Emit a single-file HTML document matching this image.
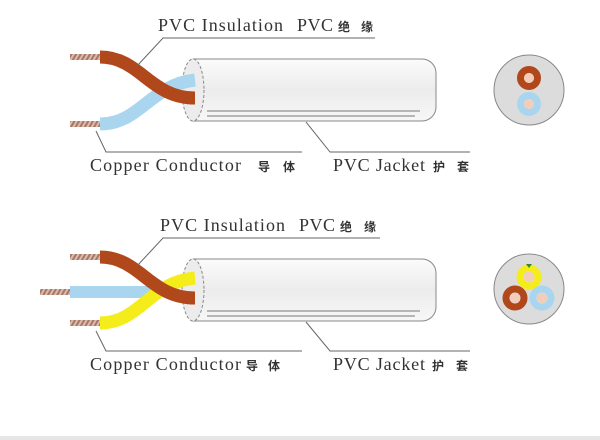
<!DOCTYPE html>
<html><head><meta charset="utf-8"><style>
html,body{margin:0;padding:0;background:#fff}
svg{display:block}
text{font-family:"Liberation Serif","Noto Serif CJK SC",serif;fill:#333;font-size:18px}
text.c{font-family:"Noto Sans CJK SC",sans-serif;font-size:12px;font-weight:bold;fill:#333}
</style></head><body>
<svg width="600" height="440" viewBox="0 0 600 440" xmlns="http://www.w3.org/2000/svg">
<defs>
<linearGradient id="jk" x1="0" y1="0" x2="0" y2="1">
<stop offset="0" stop-color="#fbfbfb"/><stop offset="0.5" stop-color="#ececec"/><stop offset="1" stop-color="#f7f7f7"/>
</linearGradient>
<pattern id="cu" width="4" height="4" patternUnits="userSpaceOnUse" patternTransform="rotate(30)">
<rect width="4" height="4" fill="#e2b9a8"/><rect width="2" height="4" fill="#a07a6a"/>
</pattern>
</defs>
<rect x="0" y="436" width="600" height="4" fill="#e6e6e6"/>

<path d="M193 59 H422 A14 14 0 0 1 436 73 V107 A14 14 0 0 1 422 121 H193 Z" fill="url(#jk)" stroke="#888"/>
<ellipse cx="193" cy="90" rx="11" ry="31" fill="#ececec" stroke="#888" stroke-dasharray="3 2"/>
<line x1="207" y1="111" x2="420" y2="111" stroke="#777"/>
<line x1="207" y1="116" x2="415" y2="116" stroke="#777"/>
<path d="M100 124 C140 124 150 85 195 80" fill="none" stroke="#a9d6ee" stroke-width="13"/>
<path d="M100 57 C140 57 150 98 195 98" fill="none" stroke="#b0481b" stroke-width="13"/>
<rect x="70" y="54" width="30" height="6" fill="url(#cu)"/>
<rect x="70" y="121" width="30" height="6" fill="url(#cu)"/>
<text x="158" y="31" textLength="125" lengthAdjust="spacing">PVC Insulation</text>
<text x="297" y="31" textLength="36" lengthAdjust="spacing">PVC</text>
<text class="c" x="338" y="31">绝</text><text class="c" x="361" y="31">缘</text>
<polyline points="137,66 163,38 375,38" fill="none" stroke="#666"/>
<polyline points="96,131 106,152 302,152" fill="none" stroke="#666"/>
<text x="90" y="171" textLength="151" lengthAdjust="spacing">Copper Conductor</text>
<text class="c" x="258" y="171">导</text><text class="c" x="283" y="171">体</text>
<polyline points="306,122 330,152 470,152" fill="none" stroke="#666"/>
<text x="333" y="171" textLength="92" lengthAdjust="spacing">PVC Jacket</text>
<text class="c" x="433" y="171">护</text><text class="c" x="457" y="171">套</text>
<circle cx="529" cy="90" r="35" fill="#dcdcdc" stroke="#888"/>
<circle cx="529" cy="78" r="8.5" fill="none" stroke="#b0481b" stroke-width="7"/>
<circle cx="529" cy="78" r="5" fill="#f3cdb8"/>
<circle cx="529" cy="104" r="8.5" fill="none" stroke="#a9d6ee" stroke-width="7"/>
<circle cx="529" cy="104" r="5" fill="#f3cdb8"/>

<path d="M193 259 H422 A14 14 0 0 1 436 273 V307 A14 14 0 0 1 422 321 H193 Z" fill="url(#jk)" stroke="#888"/>
<ellipse cx="193" cy="290" rx="11" ry="31" fill="#ececec" stroke="#888" stroke-dasharray="3 2"/>
<line x1="207" y1="311" x2="420" y2="311" stroke="#777"/>
<line x1="207" y1="316" x2="415" y2="316" stroke="#777"/>
<path d="M70 292 H160" fill="none" stroke="#a9d6ee" stroke-width="12"/>
<path d="M100 323 C140 323 150 282 195 278" fill="none" stroke="#f5ec1c" stroke-width="13"/>
<path d="M100 257 C140 257 150 298 195 298" fill="none" stroke="#b0481b" stroke-width="13"/>
<rect x="70" y="254" width="30" height="6" fill="url(#cu)"/>
<rect x="40" y="289" width="30" height="6" fill="url(#cu)"/>
<rect x="70" y="320" width="30" height="6" fill="url(#cu)"/>
<text x="160" y="231" textLength="125" lengthAdjust="spacing">PVC Insulation</text>
<text x="299" y="231" textLength="36" lengthAdjust="spacing">PVC</text>
<text class="c" x="340" y="231">绝</text><text class="c" x="364" y="231">缘</text>
<polyline points="137,266 163,238 380,238" fill="none" stroke="#666"/>
<polyline points="96,331 106,351 302,351" fill="none" stroke="#666"/>
<text x="90" y="370" textLength="151" lengthAdjust="spacing">Copper Conductor</text>
<text class="c" x="246" y="370">导</text><text class="c" x="268" y="370">体</text>
<polyline points="306,322 330,351 470,351" fill="none" stroke="#666"/>
<text x="333" y="370" textLength="92" lengthAdjust="spacing">PVC Jacket</text>
<text class="c" x="432" y="370">护</text><text class="c" x="456" y="370">套</text>
<circle cx="529" cy="289" r="35" fill="#dcdcdc" stroke="#888"/>
<circle cx="529" cy="277" r="9" fill="none" stroke="#f5ec1c" stroke-width="7"/>
<circle cx="529" cy="277" r="5" fill="#f3cdb8"/>
<path d="M526 264 L532 264 L529 268 Z" fill="#3a8a2a"/>
<circle cx="515" cy="298" r="9" fill="none" stroke="#b0481b" stroke-width="7"/>
<circle cx="515" cy="298" r="5" fill="#f3cdb8"/>
<circle cx="542" cy="298" r="9" fill="none" stroke="#a9d6ee" stroke-width="7"/>
<circle cx="542" cy="298" r="5" fill="#f3cdb8"/>
</svg>
</body></html>
